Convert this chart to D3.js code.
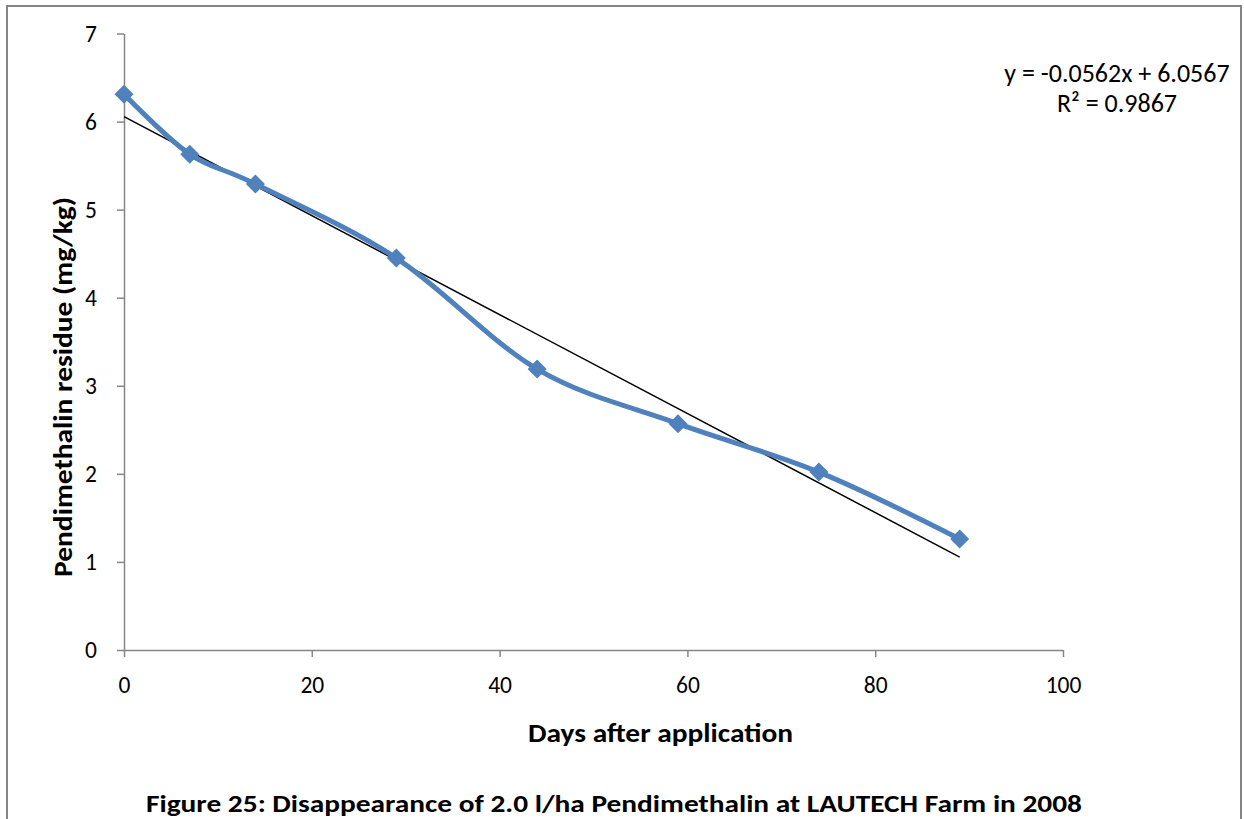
<!DOCTYPE html>
<html><head><meta charset="utf-8">
<script src="https://cdn.jsdelivr.net/npm/d3@7"></script>
<style>body{margin:0;background:#fff;} svg{display:block;}</style>
</head><body>
<svg id="c" width="1244" height="819"></svg>
<script>
const days = [0, 7, 14, 29, 44, 59, 74, 89];
const residue = [6.31, 5.63, 5.29, 4.45, 3.19, 2.57, 2.02, 1.26];
const xTicks = [0, 20, 40, 60, 80, 100];
const yTicks = [0, 1, 2, 3, 4, 5, 6, 7];
const slope = -0.0562, intercept = 6.0567;
const equationLines = ["y = -0.0562x + 6.0567", "R² = 0.9867"];
const xTitle = "Days after application";
const yTitle = "Pendimethalin residue (mg/kg)";
const caption = "Figure 25: Disappearance of 2.0 l/ha Pendimethalin at LAUTECH Farm in 2008";

const svg = d3.select("#c");
const font = "Carlito, Calibri, 'Open Sans', 'Liberation Sans', sans-serif";
svg.append("rect").attr("x",7).attr("y",6).attr("width",1234).attr("height",830)
  .attr("fill","none").attr("stroke","#858585").attr("stroke-width",2);

const x = d3.scaleLinear().domain([0,100]).range([124,1063]);
const y = d3.scaleLinear().domain([0,7]).range([650,33.5]);
const axisColor = "#868686";

const gx = svg.append("g").attr("transform","translate(0,650)")
  .call(d3.axisBottom(x).tickValues(xTicks).tickFormat(d3.format("d")).tickSize(7).tickSizeOuter(0).tickPadding(19));
const gy = svg.append("g").attr("transform","translate(124,0)")
  .call(d3.axisLeft(y).tickValues(yTicks).tickFormat(d3.format("d")).tickSize(7).tickSizeOuter(0).tickPadding(20));
[gx,gy].forEach(g=>{
  g.selectAll("path,line").attr("stroke",axisColor).attr("stroke-width",1.5);
  g.selectAll("text").attr("font-family",font).attr("font-size",23.5).attr("fill","#000");
});
gx.select(".domain").attr("d","M124,0.5H1063");

// trendline
svg.append("line").attr("x1",x(0)).attr("y1",y(intercept))
  .attr("x2",x(89)).attr("y2",y(intercept+slope*89))
  .attr("stroke","#000").attr("stroke-width",1.5);

const data = days.map((d,i)=>[d,residue[i]]);
svg.append("path").datum(data)
  .attr("d", d3.line().x(d=>x(d[0])).y(d=>y(d[1])).curve(d3.curveCardinal.tension(0)))
  .attr("fill","none").attr("stroke","#4F81BD").attr("stroke-width",5).attr("stroke-linejoin","round");

svg.selectAll(".m").data(data).enter().append("path")
  .attr("transform",d=>`translate(${x(d[0])},${y(d[1])})`)
  .attr("d","M0,-9.5L9.5,0L0,9.5L-9.5,0Z").attr("fill","#4F81BD");

const eq = svg.append("text").attr("font-family",font).attr("font-size",26).attr("text-anchor","middle").attr("fill","#000");
equationLines.forEach((t,i)=>eq.append("tspan").attr("x",1117).attr("y",82+i*30).text(t));

svg.append("text").attr("x",660.5).attr("y",742).attr("text-anchor","middle")
  .attr("font-family",font).attr("font-weight","bold").attr("font-size",26)
  .attr("textLength",265).attr("lengthAdjust","spacingAndGlyphs").text(xTitle);
svg.append("text").attr("transform","translate(72,387) rotate(-90)").attr("text-anchor","middle")
  .attr("font-family",font).attr("font-weight","bold").attr("font-size",26.5)
  .attr("textLength",380).attr("lengthAdjust","spacingAndGlyphs").text(yTitle);
svg.append("text").attr("x",614).attr("y",812).attr("text-anchor","middle")
  .attr("font-family",font).attr("font-weight","bold").attr("font-size",24)
  .attr("textLength",936).attr("lengthAdjust","spacingAndGlyphs").text(caption);
</script>
</body></html>
